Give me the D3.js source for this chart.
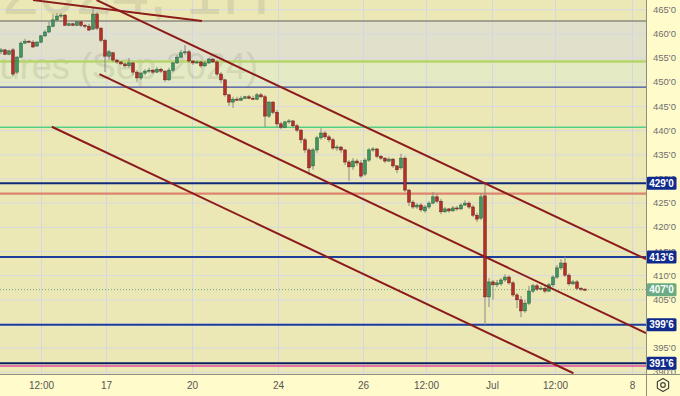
<!DOCTYPE html>
<html lang="en">
<head>
<meta charset="UTF-8">
<title>Corn Futures 1H</title>
<style>
  body { margin: 0; background: #fffccc; }
  svg { display: block; font-family: "Liberation Sans", Arial, sans-serif; }
</style>
</head>
<body>
<div id="chart"></div>
<script src="https://d3js.org/d3.v7.min.js"></script>
<script>
// hourly candles, oldest first
const opens = [
  456.2, 456.6, 455.7, 456.6, 452.0, 455.1, 458.0, 458.4, 458.2, 457.4,
  458.2, 459.5, 460.3, 461.5, 462.8, 463.6, 463.8, 461.7, 462.0, 461.7,
  462.4, 461.7, 461.5, 460.9, 464.0, 461.1, 458.6, 455.3, 456.0, 454.5,
  454.1, 453.7, 453.3, 453.9, 452.0, 450.8, 451.8, 452.2, 452.4, 452.0,
  452.6, 452.2, 450.4, 452.4, 453.9, 455.1, 456.0, 456.2, 454.3, 453.9,
  454.1, 453.3, 453.9, 454.7, 454.1, 451.6, 450.4, 447.3, 445.8, 446.4,
  446.2, 446.6, 446.9, 446.6, 446.4, 447.3, 446.9, 442.9, 445.8, 443.7,
  441.3, 440.6, 441.7, 441.9, 440.9, 440.0, 438.0, 435.9, 432.6, 435.9,
  438.4, 439.4, 438.6, 438.0, 436.3, 436.5, 435.9, 433.4, 432.4, 433.6,
  433.2, 430.9, 433.8, 435.9, 436.1, 434.6, 434.2, 433.6, 434.0, 432.6,
  432.2, 434.2, 427.6, 425.1, 424.1, 424.5, 423.3, 424.1, 424.9, 426.2,
  425.3, 423.1, 423.7, 423.3, 423.9, 423.7, 424.5, 424.9, 424.1, 422.4,
  421.8, 426.4, 405.5, 408.6, 408.0, 408.2, 409.0, 409.6, 408.4, 405.9,
  404.9, 402.6, 404.2, 406.7, 407.8, 407.1, 407.3, 406.7, 408.0, 409.6,
  411.5, 412.5, 410.0, 408.2, 408.6, 407.3, 407.1
];
const highs = [
  457.0, 456.8, 456.6, 457.0, 455.3, 458.4, 458.9, 458.6, 458.6, 458.4,
  459.7, 460.7, 462.4, 464.0, 464.2, 464.2, 464.0, 462.2, 462.2, 462.6,
  462.6, 462.0, 462.0, 465.3, 464.4, 461.3, 458.9, 456.6, 456.2, 454.7,
  454.3, 453.9, 454.9, 454.1, 452.4, 452.0, 452.6, 452.9, 452.6, 453.1,
  452.9, 452.4, 452.9, 454.1, 455.5, 456.6, 457.6, 456.6, 454.5, 454.5,
  454.3, 454.3, 454.9, 454.9, 454.5, 452.0, 450.6, 447.5, 446.9, 446.9,
  447.1, 447.1, 447.3, 447.1, 447.7, 447.7, 447.3, 446.0, 446.0, 444.2,
  441.7, 441.9, 442.3, 442.1, 441.3, 440.2, 438.4, 436.3, 436.3, 438.8,
  440.4, 439.8, 439.0, 438.4, 436.9, 436.7, 436.1, 433.8, 434.2, 434.0,
  433.8, 434.2, 436.3, 436.5, 436.3, 434.9, 434.4, 434.4, 434.2, 432.8,
  435.1, 434.6, 427.8, 425.5, 424.9, 424.9, 424.5, 425.3, 427.2, 426.8,
  425.8, 424.1, 423.9, 424.3, 424.3, 424.9, 425.5, 425.3, 424.5, 422.9,
  427.0, 428.9, 409.4, 409.0, 409.0, 409.4, 410.2, 410.0, 408.8, 406.3,
  405.7, 404.9, 407.8, 408.2, 408.2, 407.8, 407.8, 408.4, 410.0, 412.1,
  413.3, 413.8, 410.4, 409.0, 409.0, 407.5, 407.3
];
const lows = [
  455.7, 455.5, 455.5, 451.2, 451.6, 454.9, 457.8, 458.0, 457.0, 457.2,
  458.0, 459.3, 460.1, 461.3, 462.4, 463.2, 461.5, 461.5, 461.5, 461.5,
  461.3, 461.1, 460.5, 460.7, 460.7, 458.2, 452.0, 454.5, 454.1, 453.7,
  453.5, 452.9, 452.9, 451.4, 450.0, 450.4, 451.4, 451.8, 451.6, 451.8,
  451.8, 450.0, 450.2, 452.0, 453.7, 454.9, 455.5, 453.9, 453.5, 453.7,
  452.9, 453.1, 453.7, 453.9, 451.2, 449.7, 446.9, 445.0, 444.6, 446.0,
  446.0, 446.4, 446.4, 446.2, 446.2, 446.6, 440.6, 442.5, 443.3, 440.6,
  440.2, 440.4, 441.3, 440.4, 439.6, 437.3, 435.3, 430.7, 431.8, 435.3,
  438.0, 438.2, 437.5, 435.9, 435.7, 435.3, 432.8, 429.5, 431.8, 432.6,
  430.1, 430.5, 433.4, 435.5, 434.2, 433.8, 433.2, 433.4, 432.2, 431.1,
  431.8, 427.2, 424.3, 423.7, 423.7, 423.1, 422.9, 423.7, 424.7, 424.9,
  422.6, 422.9, 422.9, 423.1, 423.3, 423.5, 424.3, 423.7, 422.0, 421.0,
  421.4, 399.7, 403.4, 404.9, 407.5, 407.8, 408.6, 408.0, 405.5, 403.2,
  401.3, 402.2, 403.8, 406.3, 406.7, 406.9, 406.3, 406.5, 407.5, 409.2,
  411.1, 409.6, 407.8, 408.0, 406.9, 406.7, 406.7
];
const closes = [
  456.6, 455.7, 456.4, 451.6, 455.1, 458.0, 458.4, 458.2, 457.2, 458.2,
  459.5, 460.3, 461.5, 462.8, 463.6, 463.8, 461.7, 462.0, 461.7, 462.4,
  461.7, 461.5, 460.7, 464.0, 461.1, 458.6, 455.3, 456.2, 454.5, 454.1,
  453.7, 453.3, 453.9, 452.0, 450.8, 451.8, 452.2, 452.4, 452.0, 452.6,
  452.2, 450.4, 452.4, 453.9, 455.1, 456.0, 456.2, 454.3, 453.9, 454.1,
  453.3, 453.9, 454.7, 454.1, 451.6, 450.4, 447.3, 445.8, 446.4, 446.2,
  446.6, 446.9, 446.6, 446.4, 447.3, 446.9, 442.9, 445.8, 443.7, 441.3,
  440.6, 441.7, 441.9, 440.9, 440.0, 438.0, 435.9, 432.2, 435.9, 438.4,
  439.4, 438.6, 438.0, 436.3, 436.5, 435.9, 433.4, 432.4, 433.6, 433.2,
  430.5, 433.8, 435.9, 436.1, 434.6, 434.2, 433.6, 434.0, 432.6, 431.8,
  434.2, 427.6, 425.1, 424.1, 424.5, 423.5, 424.1, 424.9, 426.2, 425.3,
  423.1, 423.7, 423.3, 423.9, 423.7, 424.5, 424.9, 424.1, 422.4, 421.6,
  426.2, 405.5, 408.6, 408.0, 408.4, 409.0, 409.6, 408.4, 405.9, 404.9,
  402.6, 404.2, 406.7, 407.8, 407.1, 407.3, 406.7, 408.0, 409.6, 411.5,
  412.5, 410.0, 408.2, 408.6, 407.3, 407.1, 407.0
];

const priceTicks = [390, 395, 400, 405, 410, 415, 420, 425, 430, 435, 440, 445, 450, 455, 460, 465];
// time axis ticks, as bar positions
const timeTickBars = [10, 26.25, 47.75, 69.25, 90.5, 106.25, 122.75, 138.5, 157.75];
const timeTickLabels = ["12:00", "17", "20", "24", "26", "12:00", "Jul", "12:00", "8"];

// horizontal levels
const levelPrices = [462.6, 454.2, 448.9, 440.6, 429.0, 426.85, 413.75, 407.0, 399.75, 391.75, 391.2];
const zoneBands = [[462.6, 454.2], [454.2, 448.9]];
// levels marked on the price scale
const markPrices = [429.0, 413.75, 407.0, 399.75, 391.75];
const markLabels = ["429'0", "413'6", "407'0", "399'6", "391'6"];
// trend lines: [bar, price] -> [bar, price]
const trendLines = [
  [[8, 466.9], [50.25, 462.6]],
  [[23.9, 466.9], [161.25, 413.3]],
  [[24.6, 451.6], [161.25, 398.0]],
  [[12.7, 440.7], [143.1, 389.7]]
];

const W = 680, H = 396, plotW = 646, plotH = 374;

const levelStyle = [
  { c: "#a2a090", w: 2 },
  { c: "#b7d46a", w: 2.5 },
  { c: "#3b4ba6", w: 1.2 },
  { c: "#55cf88", w: 1.3 },
  { c: "#10297a", w: 2 },
  { c: "#de8570", w: 2.2 },
  { c: "#1d3d9c", w: 2 },
  { c: "#6aa886", w: 1, dash: "1,2" },
  { c: "#1d3d9c", w: 2 },
  { c: "#0c1e66", w: 2 },
  { c: "#e24b9f", w: 1.3 }
];
const bandColors = ["#e1e0ca", "#e4eac4"];
const markColors = ["#0f2a8c", "#0f2a8c", "#6aab84", "#0f2a8c", "#0f2a8c"];

const svg = d3.select("#chart").append("svg")
  .attr("width", W)
  .attr("height", H);

const x = d3.scaleLinear().domain([-0.25, 161.25]).range([0, plotW]);
const y = d3.scaleLinear().domain([389.55, 466.92]).range([plotH, 0]);

svg.append("clipPath").attr("id", "plotClip")
  .append("rect").attr("width", plotW).attr("height", plotH);

const plot = svg.append("g").attr("clip-path", "url(#plotClip)");

// background and shaded zones
plot.append("rect").attr("width", plotW).attr("height", plotH).attr("fill", "#ebe8b6");
plot.selectAll(".band").data(zoneBands).enter().append("rect")
  .attr("x", 0).attr("width", plotW)
  .attr("y", d => y(d[0]))
  .attr("height", d => y(d[1]) - y(d[0]))
  .attr("fill", (d, i) => bandColors[i]);

// grid
plot.append("g")
  .attr("transform", `translate(0,${plotH})`)
  .call(d3.axisBottom(x).tickValues(timeTickBars).tickSize(-plotH).tickFormat(""))
  .call(g => g.select(".domain").remove())
  .call(g => g.selectAll("line").attr("stroke", "#d4d6e2").attr("stroke-width", 1));
plot.append("g")
  .call(d3.axisLeft(y).tickValues(priceTicks).tickSize(-plotW).tickFormat(""))
  .call(g => g.select(".domain").remove())
  .call(g => g.selectAll("line").attr("stroke", "#d8d9e0").attr("stroke-width", 1));

// watermark
plot.append("text").attr("x", 270).attr("y", 14).attr("text-anchor", "end")
  .attr("font-size", 66).attr("fill", "#7d7c68").attr("opacity", 0.17)
  .text("ZCU2024, 1H");
plot.append("text").attr("x", 258).attr("y", 79).attr("text-anchor", "end")
  .attr("font-size", 36).attr("fill", "#7d7c68").attr("opacity", 0.17)
  .text("Corn Futures (Sep 2024)");

// levels
plot.selectAll(".level").data(levelPrices).enter().append("line")
  .attr("x1", 0).attr("x2", plotW)
  .attr("y1", d => y(d)).attr("y2", d => y(d))
  .attr("stroke", (d, i) => levelStyle[i].c)
  .attr("stroke-width", (d, i) => levelStyle[i].w)
  .attr("stroke-dasharray", (d, i) => levelStyle[i].dash || null);
plot.append("line")
  .attr("x1", 0).attr("x2", plotW)
  .attr("y1", y(399.75) + 2).attr("y2", y(399.75) + 2)
  .attr("stroke", "#e8e8f2").attr("stroke-width", 1).attr("stroke-dasharray", "1,2");

// candles
const bars = d3.range(closes.length);
const bw = 2.8;
const candle = plot.append("g").selectAll("g").data(bars).enter().append("g");
candle.append("line")
  .attr("x1", i => x(i)).attr("x2", i => x(i))
  .attr("y1", i => y(highs[i])).attr("y2", i => y(lows[i]))
  .attr("stroke", "#8a8a80").attr("stroke-width", 1);
candle.append("rect")
  .attr("x", i => x(i) - bw / 2)
  .attr("width", bw)
  .attr("y", i => y(Math.max(opens[i], closes[i])))
  .attr("height", i => Math.max(1, Math.abs(y(opens[i]) - y(closes[i]))))
  .attr("fill", i => closes[i] >= opens[i] ? "#3f9660" : "#b3302a")
  .attr("stroke", i => closes[i] >= opens[i] ? "#1f5a36" : "#6e1a16")
  .attr("stroke-width", 0.5);

// trend lines
plot.selectAll(".trend").data(trendLines).enter().append("line")
  .attr("x1", d => x(d[0][0])).attr("y1", d => y(d[0][1]))
  .attr("x2", d => x(d[1][0])).attr("y2", d => y(d[1][1]))
  .attr("stroke", "#8c1b1b").attr("stroke-width", 2);

// axis panels
svg.append("rect").attr("x", plotW).attr("y", 0).attr("width", W - plotW).attr("height", H).attr("fill", "#fffbcb");
svg.append("rect").attr("x", 0).attr("y", plotH).attr("width", W).attr("height", H - plotH).attr("fill", "#fffbcb");

// clip is in the translated axis group's own coordinates
svg.append("clipPath").attr("id", "priceClip")
  .append("rect").attr("x", 0).attr("width", W - plotW).attr("height", plotH);

svg.append("g")
  .attr("transform", `translate(${plotW},0)`)
  .attr("clip-path", "url(#priceClip)")
  .call(d3.axisRight(y).tickValues(priceTicks).tickSize(0).tickPadding(7).tickFormat(d => `${d}'0`))
  .call(g => g.select(".domain").remove())
  .call(g => g.selectAll("text").attr("fill", "#6f6f6f").attr("font-size", 9.5)
    .attr("font-family", "Liberation Sans, Arial, sans-serif"));

svg.append("g")
  .attr("transform", `translate(0,${plotH})`)
  .call(d3.axisBottom(x).tickValues(timeTickBars).tickSize(0).tickPadding(7.5)
    .tickFormat((d, i) => timeTickLabels[i]))
  .call(g => g.select(".domain").remove())
  .call(g => g.selectAll("text").attr("fill", "#555").attr("font-size", 10)
    .attr("font-family", "Liberation Sans, Arial, sans-serif"));

// marked levels on the price scale
const marks = svg.append("g").selectAll("g").data(markPrices).enter().append("g");
marks.append("rect")
  .attr("x", plotW + 0.5).attr("width", 30)
  .attr("y", d => y(d) - 6.5).attr("height", 13).attr("rx", 1.5)
  .attr("fill", (d, i) => markColors[i]);
marks.append("text")
  .attr("x", plotW + 15.5).attr("y", d => y(d) + 3.6)
  .attr("text-anchor", "middle").attr("font-size", 10).attr("font-weight", "bold")
  .attr("fill", "#fff")
  .text((d, i) => markLabels[i]);

// separators
svg.append("line").attr("x1", plotW + 0.5).attr("x2", plotW + 0.5).attr("y1", 0).attr("y2", H)
  .attr("stroke", "#8d8d80").attr("stroke-width", 1);
svg.append("line").attr("x1", 0).attr("x2", W).attr("y1", plotH + 0.5).attr("y2", plotH + 0.5)
  .attr("stroke", "#8d8d80").attr("stroke-width", 1);

// settings icon
const gx = 663, gy = 385, gr = 6.5;
const hex = d3.range(6).map(k => {
  const a = Math.PI / 6 + k * Math.PI / 3;
  return [gx + gr * Math.cos(a), gy + gr * Math.sin(a)];
});
svg.append("path").attr("d", d3.line()(hex) + "Z")
  .attr("fill", "none").attr("stroke", "#444").attr("stroke-width", 1.2).attr("stroke-linejoin", "round");
svg.append("circle").attr("cx", gx).attr("cy", gy).attr("r", 2.3)
  .attr("fill", "none").attr("stroke", "#444").attr("stroke-width", 1.2);
</script>
</body>
</html>
